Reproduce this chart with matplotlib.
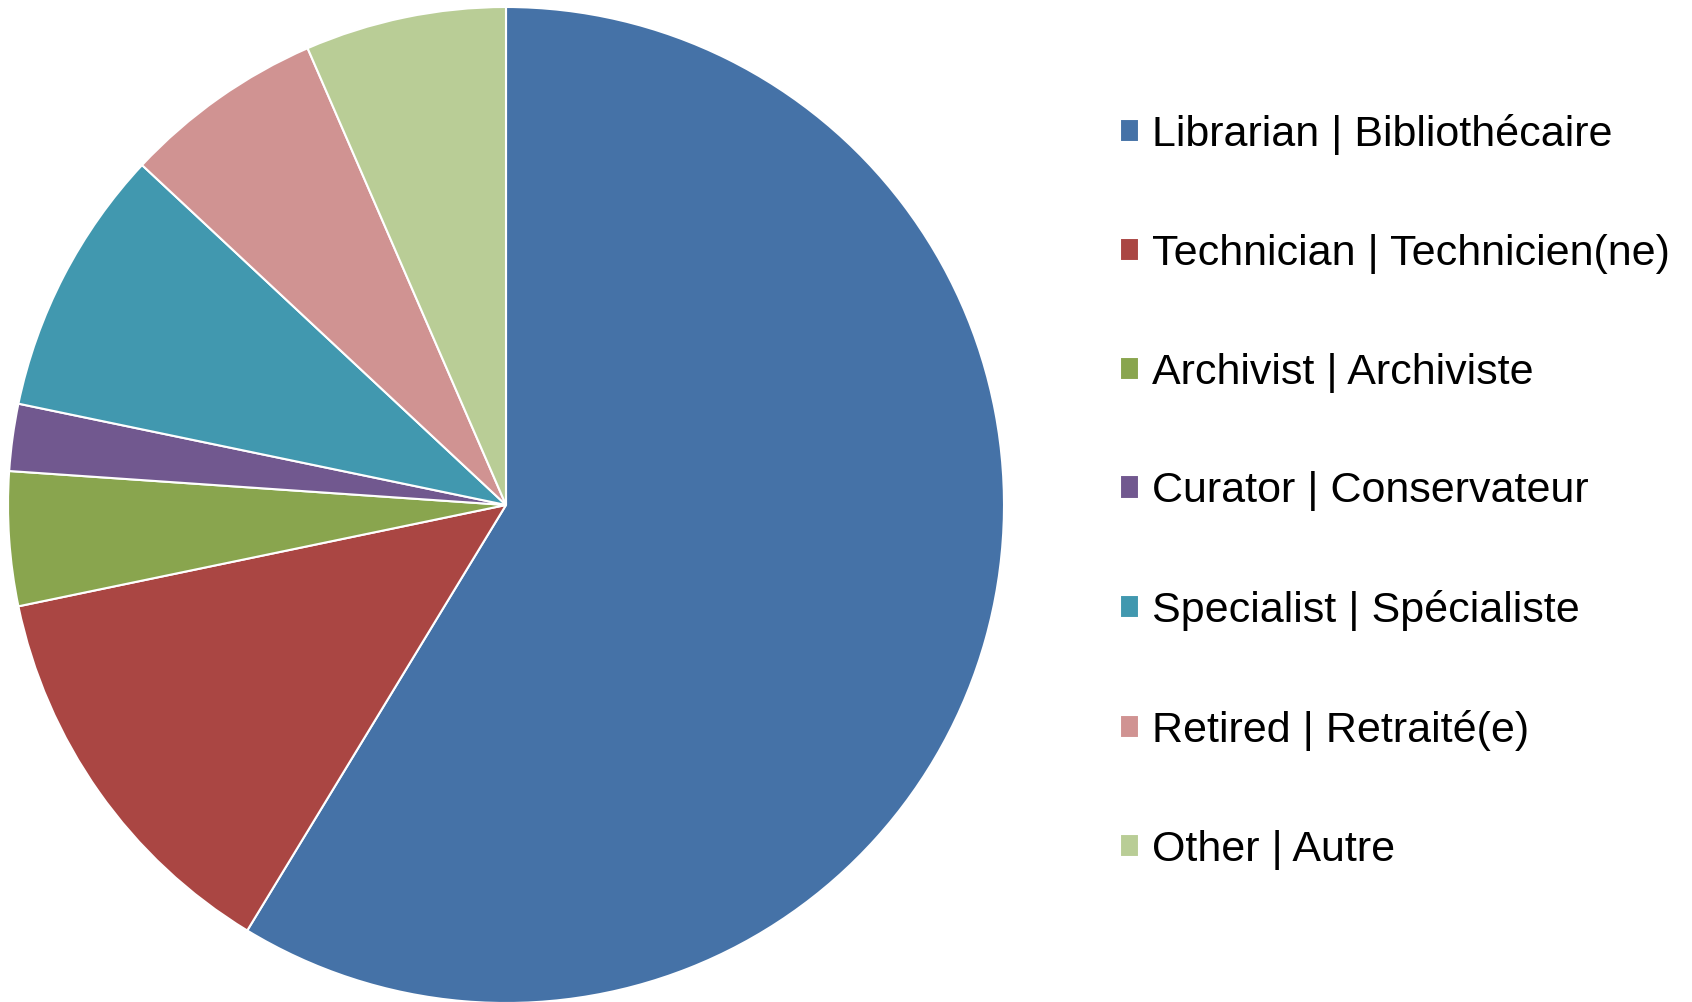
import matplotlib
matplotlib.use("Agg")
import matplotlib.pyplot as plt

categories = [
    "Librarian | Bibliothécaire",
    "Technician | Technicien(ne)",
    "Archivist | Archiviste",
    "Curator | Conservateur",
    "Specialist | Spécialiste",
    "Retired | Retraité(e)",
    "Other | Autre",
]
values = [27, 6, 2, 1, 4, 3, 3]
colors = ["#4572A7", "#AA4643", "#89A54E", "#71588F", "#4198AF", "#D09392", "#B9CD96"]

plt.rcParams['font.family'] = ['Liberation Sans', 'DejaVu Sans']

W, H = 1692, 1002
fig = plt.figure(figsize=(W / 100, H / 100), dpi=100)
ax = fig.add_axes([8 / W, -1 / H, 996 / W, 996 / H])
wedges, _ = ax.pie(values, colors=colors, startangle=90, counterclock=False,
                   wedgeprops=dict(edgecolor="white", linewidth=1.5))
ax.set_xlim(-1.0, 1.0)
ax.set_ylim(-1.0, 1.0)
ax.set_aspect("equal")
ax.axis("off")

fig.legend(wedges, categories, loc="upper left",
           bbox_to_anchor=(1120 / W, 1 - 114 / H), frameon=False,
           fontsize=31, handlelength=0.45, handleheight=0.45,
           handletextpad=0.30, labelspacing=1.83, borderaxespad=0, borderpad=0)

fig.savefig("out.png", dpi=100, facecolor="white")
